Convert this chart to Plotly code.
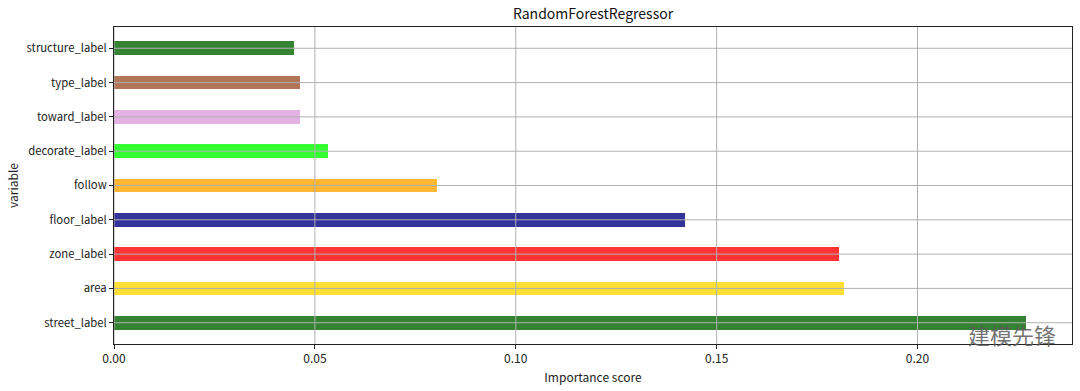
import plotly.graph_objects as go

categories = ["street_label", "area", "zone_label", "floor_label", "follow",
              "decorate_label", "toward_label", "type_label", "structure_label"]
importance = [0.2271, 0.1816, 0.1804, 0.1422, 0.0804, 0.0532, 0.0463, 0.0462, 0.0448]
bar_colors = ["rgba(0,100,0,0.8)", "rgba(255,215,0,0.8)", "rgba(255,0,0,0.8)",
              "rgba(0,0,128,0.8)", "rgba(255,165,0,0.8)", "rgba(0,255,0,0.8)",
              "rgba(221,160,221,0.8)", "rgba(160,82,45,0.8)", "rgba(0,100,0,0.8)"]
x_ticks = [0.0, 0.05, 0.10, 0.15, 0.20]
x_tick_text = ["0.00", "0.05", "0.10", "0.15", "0.20"]

FONT = "Noto Sans CJK SC"
xmax = max(importance) * 1.05
n = len(categories)

fig = go.Figure()
fig.add_trace(go.Bar(
    x=importance, y=list(range(n)), orientation="h", width=0.4,
    marker=dict(color=bar_colors, line=dict(width=0)),
    showlegend=False, hoverinfo="x+y",
))

shapes = []
for t in x_ticks:
    shapes.append(dict(type="line", xref="x", yref="paper", x0=t, x1=t, y0=0, y1=1,
                       line=dict(color="#b0b0b0", width=1), layer="above"))
for i in range(n):
    shapes.append(dict(type="line", xref="paper", yref="y", x0=0, x1=1, y0=i, y1=i,
                       line=dict(color="#b0b0b0", width=1), layer="above"))

fig.update_layout(
    width=1080, height=391,
    margin=dict(l=114, r=8, t=27, b=47, autoexpand=False),
    plot_bgcolor="white", paper_bgcolor="white",
    font=dict(family=FONT, size=12, color="#222222"),
    title=dict(text="RandomForestRegressor", x=0.5, xref="paper", xanchor="center",
               y=0.965, yref="container", yanchor="middle",
               font=dict(family=FONT, size=14, color="#111111")),
    shapes=shapes,
    bargap=0,
)
fig.update_xaxes(
    range=[0, xmax], tickvals=x_ticks, ticktext=x_tick_text,
    showgrid=False, zeroline=False, automargin=False,
    showline=True, linecolor="#222222", linewidth=1, mirror=True,
    ticks="outside", ticklen=4, tickcolor="#222222",
    title=dict(text="Importance score", standoff=8, font=dict(size=12)),
    tickfont=dict(size=12),
)
fig.update_yaxes(
    range=[-0.62, n - 1 + 0.62], tickvals=list(range(n)), ticktext=categories,
    showgrid=False, zeroline=False, automargin=False,
    showline=True, linecolor="#222222", linewidth=1, mirror=True,
    ticks="outside", ticklen=4, tickcolor="#222222",
    title=dict(text="variable", standoff=5, font=dict(size=12)),
    tickfont=dict(size=11.3),
)
fig.add_annotation(text="建模先锋", xref="paper", yref="paper", x=0.985, y=0.03,
                   xanchor="right", yanchor="middle", showarrow=False,
                   font=dict(family=FONT, size=22, color="rgba(90,90,90,0.85)"))

fig.write_html("out.html", config={"displayModeBar": False},
               post_script="document.body.style.margin='0';document.body.style.overflow='hidden';")
